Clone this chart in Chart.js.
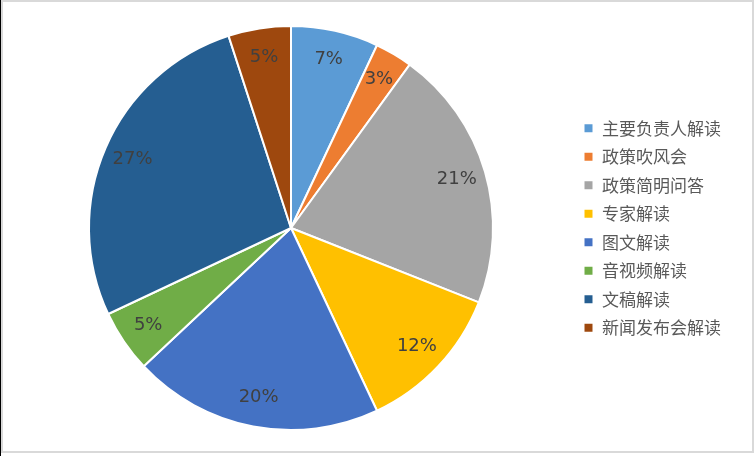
<!DOCTYPE html>
<html>
<head>
<meta charset="utf-8">
<script src="https://cdn.jsdelivr.net/npm/chart.js@4/dist/chart.umd.min.js"></script>
<style>
  html, body { margin: 0; padding: 0; background: #fff; }
  #wrap { position: relative; width: 756px; height: 456px; overflow: hidden; }
  #edge { position: absolute; left: 0; top: 0; width: 1px; height: 456px; background: #000; }
  #frame { position: absolute; left: 1px; top: 0; width: 749px; height: 449px; border: 2px solid #d9d9d9; }
  #pieChart { position: absolute; left: 0; top: 0; }
</style>
</head>
<body>
<div id="wrap">
  <canvas id="pieChart" width="756" height="456"></canvas>
  <div id="edge"></div>
  <div id="frame"></div>
</div>
<script>
// 解读形式占比
var categories = ['主要负责人解读', '政策吹风会', '政策简明问答', '专家解读', '图文解读', '音视频解读', '文稿解读', '新闻发布会解读'];
var shares = [7, 3, 21, 12, 20, 5, 27, 5];
var colors = ['#5B9BD5', '#ED7D31', '#A5A5A5', '#FFC000', '#4472C4', '#70AD47', '#255E91', '#9E480E'];

// 百分比标签，画在扇区里靠外的位置
var pctLabels = {
    id: 'pctLabels',
    afterDatasetsDraw: function (chart) {
        var ctx = chart.ctx;
        var meta = chart.getDatasetMeta(0);
        ctx.save();
        ctx.font = '18px "DejaVu Sans"';
        ctx.fillStyle = '#404040';
        ctx.textAlign = 'center';
        ctx.textBaseline = 'middle';
        meta.data.forEach(function (arc, i) {
            var p = arc.getProps(['x', 'y', 'startAngle', 'endAngle', 'outerRadius'], true);
            var mid = (p.startAngle + p.endAngle) / 2;
            var r = p.outerRadius * 0.855;
            ctx.fillText(shares[i] + '%', p.x + Math.cos(mid) * r, p.y + Math.sin(mid) * r);
        });
        ctx.restore();
    }
};

var ctxPie = document.getElementById('pieChart');
var myPieChart = new Chart(ctxPie, {
    type: 'pie',
    data: {
        labels: categories,
        datasets: [{
            data: shares,
            backgroundColor: colors,
            borderColor: '#ffffff',
            borderWidth: 2
        }]
    },
    options: {
        responsive: false,
        animation: false,
        devicePixelRatio: 1,
        layout: {
            padding: { left: 10, right: 25, top: 25, bottom: 25 }
        },
        plugins: {
            legend: {
                position: 'right',
                labels: {
                    boxWidth: 10,
                    boxHeight: 10,
                    padding: 11.5,
                    color: '#595959',
                    font: { family: '"Noto Sans CJK SC"', size: 17 }
                }
            },
            tooltip: { enabled: false }
        }
    },
    plugins: [pctLabels]
});
</script>
</body>
</html>
